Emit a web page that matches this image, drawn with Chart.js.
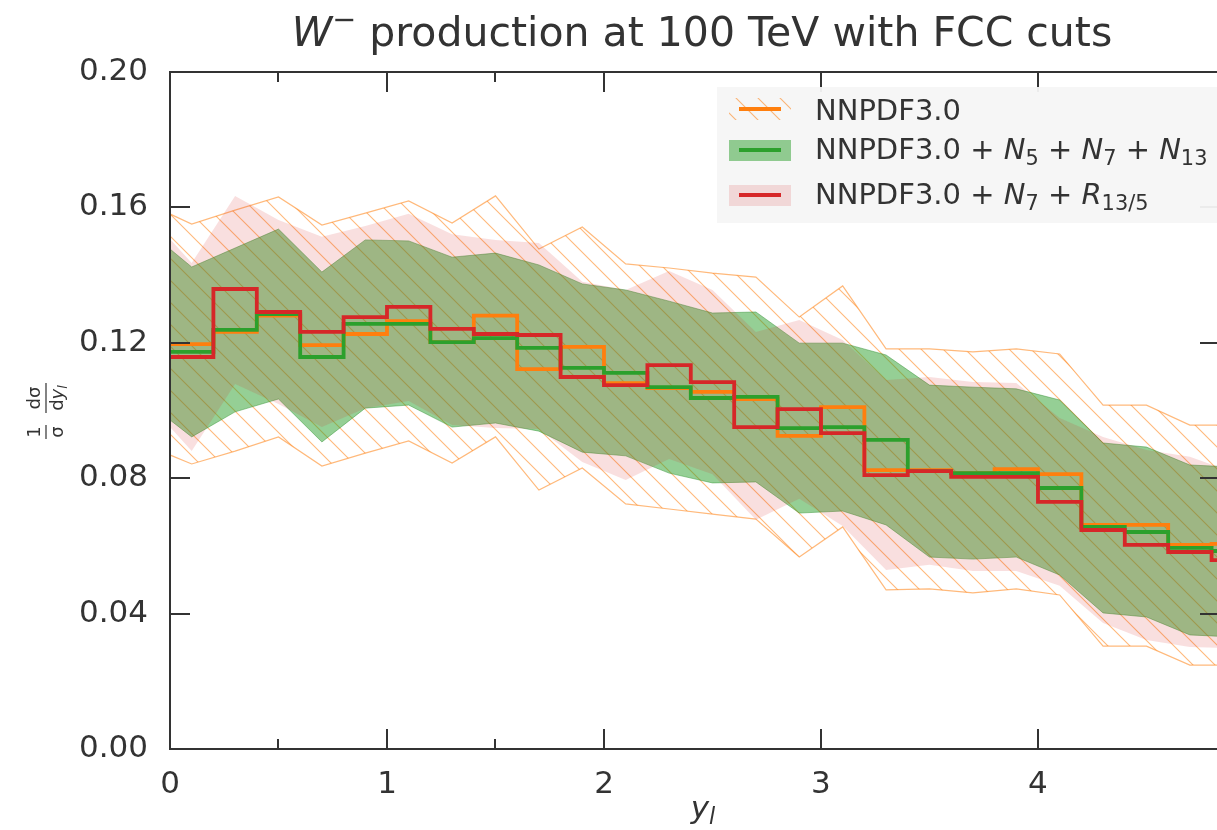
<!DOCTYPE html>
<html>
<head>
<meta charset="utf-8">
<script src="https://cdn.jsdelivr.net/npm/chart.js@4.4.1/dist/chart.umd.min.js"></script>
<style>
html,body{margin:0;padding:0;background:#ffffff;overflow:hidden;}
canvas{display:block;}
</style>
</head>
<body>
<canvas id="c" width="1217" height="830" style="width:1217px;height:830px"></canvas>
<script>
// ---------------- data ----------------
const binEdges = [0.0,0.2,0.4,0.6,0.8,1.0,1.2,1.4,1.6,1.8,2.0,2.2,2.4,2.6,2.8,3.0,3.2,3.4,3.6,3.8,4.0,4.2,4.4,4.6,4.8,5.0];
const bandX = [-0.1,0.1,0.3,0.5,0.7,0.9,1.1,1.3,1.5,1.7,1.9,2.1,2.3,2.5,2.7,2.9,3.1,3.3,3.5,3.7,3.9,4.1,4.3,4.5,4.7,4.9];

const nnpdfCentral = [0.1196,0.1232,0.1280,0.1193,0.1226,0.1264,0.1202,0.1280,0.1122,0.1188,0.1081,0.1066,0.1055,0.1034,0.0925,0.1010,0.0824,0.0824,0.0815,0.0827,0.0812,0.0662,0.0662,0.0603,0.0606];
const n5n7n13Central = [0.1173,0.1238,0.1285,0.1158,0.1256,0.1256,0.1202,0.1214,0.1185,0.1126,0.1111,0.1069,0.1037,0.1040,0.0948,0.0951,0.0913,0.0821,0.0815,0.0815,0.0771,0.0656,0.0641,0.0594,0.0585];
const n7r135Central = [0.1158,0.1359,0.1291,0.1232,0.1276,0.1306,0.1241,0.1226,0.1223,0.1099,0.1075,0.1134,0.1084,0.0951,0.1004,0.0933,0.0809,0.0821,0.0804,0.0804,0.0730,0.0647,0.0603,0.0582,0.0558];

const nnpdfUpper = [0.1610,0.1551,0.1592,0.1631,0.1548,0.1583,0.1619,0.1554,0.1634,0.1477,0.1542,0.1433,0.1421,0.1406,0.1394,0.1276,0.1368,0.1182,0.1182,0.1173,0.1182,0.1167,0.1016,0.1016,0.0957,0.0957];
const nnpdfLower = [0.0895,0.0842,0.0880,0.0922,0.0836,0.0874,0.0910,0.0845,0.0922,0.0765,0.0830,0.0724,0.0709,0.0694,0.0679,0.0567,0.0656,0.0470,0.0473,0.0461,0.0473,0.0455,0.0304,0.0304,0.0248,0.0248];

const n5n7n13Upper = [0.1530,0.1424,0.1480,0.1536,0.1409,0.1504,0.1501,0.1453,0.1465,0.1430,0.1374,0.1356,0.1323,0.1288,0.1291,0.1199,0.1199,0.1164,0.1075,0.1069,0.1064,0.1031,0.0904,0.0892,0.0839,0.0833];
const n5n7n13Lower = [0.1022,0.0922,0.0996,0.1034,0.0907,0.1007,0.1016,0.0951,0.0963,0.0939,0.0877,0.0866,0.0815,0.0786,0.0789,0.0697,0.0703,0.0662,0.0567,0.0561,0.0567,0.0514,0.0402,0.0390,0.0337,0.0331];

const n7r135Upper = [0.1577,0.1436,0.1634,0.1563,0.1513,0.1545,0.1581,0.1521,0.1504,0.1495,0.1380,0.1356,0.1412,0.1356,0.1232,0.1267,0.1208,0.1090,0.1099,0.1084,0.1081,0.0978,0.0922,0.0883,0.0863,0.0818];
const n7r135Lower = [0.1022,0.0880,0.1078,0.1019,0.0951,0.1007,0.1028,0.0957,0.0948,0.0945,0.0848,0.0795,0.0857,0.0812,0.0677,0.0739,0.0659,0.0529,0.0544,0.0526,0.0526,0.0482,0.0372,0.0322,0.0301,0.0298];

const xMajorTicks = [0,1,2,3,4];
const xMinorTicks = [0.5,1.5];
const yTicks = [0.00,0.04,0.08,0.12,0.16,0.20];
const xMin = 0, xMax = 4.825, yMin = 0, yMax = 0.20;

// ---------------- styling ----------------
const FONT = '"DejaVu Sans", "Liberation Sans", sans-serif';
const TXT = '#333333';
const C_OR = '#ff7f0e', C_GR = '#2ca02c', C_RD = '#d62728';

const canvas = document.getElementById('c');
const mainCtx = canvas.getContext('2d');

function makeHatch(){
  const s = 22;
  const c = document.createElement('canvas');
  c.width = s; c.height = s;
  const g = c.getContext('2d');
  g.strokeStyle = 'rgba(255,127,14,0.55)';
  g.lineWidth = 1.1;
  g.beginPath();
  g.moveTo(-3,-3); g.lineTo(s+3,s+3);
  g.moveTo(-3,s-3); g.lineTo(3,s+3);
  g.moveTo(s-3,-3); g.lineTo(s+3,3);
  g.stroke();
  return mainCtx.createPattern(c,'repeat');
}
const hatch = makeHatch();

function stepPoints(vals){
  const pts = vals.map((v,i)=>({x:binEdges[i], y:v}));
  pts.push({x:binEdges[vals.length], y:vals[vals.length-1]});
  return pts;
}
function bandPoints(vals){ return vals.map((v,i)=>({x:bandX[i], y:v})); }

function drawRich(ctx, x, y, segs, size){
  for (const s of segs){
    let sz = size, dy = 0;
    if (s.sub){ sz = size*0.72; dy = size*0.2; }
    if (s.sup){ sz = size*0.7; dy = -size*0.42; }
    ctx.font = (s.it ? 'italic ' : '') + sz.toFixed(1) + 'px ' + FONT;
    ctx.fillText(s.t, x, y + dy);
    x += ctx.measureText(s.t).width;
  }
  return x;
}
function richWidth(ctx, segs, size){
  let w = 0;
  for (const s of segs){
    let sz = size;
    if (s.sub) sz = size*0.72;
    if (s.sup) sz = size*0.7;
    ctx.font = (s.it ? 'italic ' : '') + sz.toFixed(1) + 'px ' + FONT;
    w += ctx.measureText(s.t).width;
  }
  return w;
}

const decor = {
  id: 'decor',
  afterDraw(chart){
    const ctx = chart.ctx, ca = chart.chartArea;
    const xs = chart.scales.x, ys = chart.scales.y;
    ctx.save();
    ctx.strokeStyle = '#333333';
    ctx.lineWidth = 2;
    ctx.lineCap = 'butt';
    // frame (right spine lies just outside the picture)
    ctx.beginPath();
    ctx.moveTo(ca.right + 4, ca.top); ctx.lineTo(ca.left, ca.top);
    ctx.lineTo(ca.left, ca.bottom); ctx.lineTo(ca.right + 4, ca.bottom);
    ctx.stroke();
    // ticks (inward)
    ctx.beginPath();
    for (const v of xMajorTicks){
      const px = Math.round(xs.getPixelForValue(v));
      ctx.moveTo(px, ca.bottom); ctx.lineTo(px, ca.bottom - 20);
      ctx.moveTo(px, ca.top); ctx.lineTo(px, ca.top + 20);
    }
    for (const v of xMinorTicks){
      const px = Math.round(xs.getPixelForValue(v));
      ctx.moveTo(px, ca.bottom); ctx.lineTo(px, ca.bottom - 10);
      ctx.moveTo(px, ca.top); ctx.lineTo(px, ca.top + 10);
    }
    for (const v of yTicks){
      const py = Math.round(ys.getPixelForValue(v));
      ctx.moveTo(ca.left, py); ctx.lineTo(ca.left + 20, py);
      ctx.moveTo(ca.right + 3, py); ctx.lineTo(ca.right - 17, py);
    }
    ctx.stroke();

    // legend
    ctx.fillStyle = 'rgba(246,246,246,0.95)';
    ctx.fillRect(717, 87, 510, 136);
    const sx0 = 729, sx1 = 791;
    const rows = [109, 150, 195];
    ctx.fillStyle = hatch;
    ctx.fillRect(sx0, rows[0]-11, sx1-sx0, 22);
    ctx.fillStyle = 'rgba(44,160,44,0.5)';
    ctx.fillRect(sx0, rows[1]-10, sx1-sx0, 21);
    ctx.fillStyle = 'rgba(214,39,40,0.15)';
    ctx.fillRect(sx0, rows[2]-10, sx1-sx0, 21);
    ctx.lineWidth = 4;
    [[C_OR,rows[0]],[C_GR,rows[1]],[C_RD,rows[2]]].forEach(([c,y])=>{
      ctx.strokeStyle = c; ctx.beginPath(); ctx.moveTo(739,y); ctx.lineTo(781,y); ctx.stroke();
    });
    ctx.fillStyle = TXT;
    ctx.textAlign = 'left';
    ctx.textBaseline = 'alphabetic';
    const LS = 29;
    drawRich(ctx, 815, 120, [{t:'NNPDF3.0'}], LS);
    drawRich(ctx, 815, 159, [{t:'NNPDF3.0 + '},{t:'N',it:true},{t:'5',sub:true},{t:' + '},{t:'N',it:true},{t:'7',sub:true},{t:' + '},{t:'N',it:true},{t:'13',sub:true}], LS);
    drawRich(ctx, 815, 204, [{t:'NNPDF3.0 + '},{t:'N',it:true},{t:'7',sub:true},{t:' + '},{t:'R',it:true},{t:'13/5',sub:true}], LS);

    // title
    const TS = 41;
    const titleSegs = [{t:'W',it:true},{t:'\u2212',sup:true},{t:' production at 100 TeV with FCC cuts'}];
    const tw = richWidth(ctx, titleSegs, TS);
    drawRich(ctx, 702 - tw/2, 46, titleSegs, TS);

    // x axis title
    const xt = [{t:'y',it:true},{t:'l',it:true,sub:true}];
    const xw = richWidth(ctx, xt, 31);
    drawRich(ctx, 703 - xw/2, 818, xt, 31);

    // y axis title: (1/sigma) (d sigma / d y_l), rotated
    ctx.save();
    ctx.translate(45, 411);
    ctx.rotate(-Math.PI/2);
    const FS = 18;
    ctx.font = FS + 'px ' + FONT;
    ctx.textAlign = 'center';
    ctx.fillText('1', -21, -5);
    ctx.fillText('\u03c3', -21, 18);
    ctx.fillText('d\u03c3', 13, -5);
    ctx.textAlign = 'left';
    const dSegs = [{t:'d'},{t:'y',it:true},{t:'l',it:true,sub:true}];
    const dw = richWidth(ctx, dSegs, FS);
    drawRich(ctx, 13 - dw/2, 18, dSegs, FS);
    ctx.strokeStyle = TXT; ctx.lineWidth = 1.2;
    ctx.beginPath();
    ctx.moveTo(-28, 1); ctx.lineTo(-14, 1);
    ctx.moveTo(-2, 1); ctx.lineTo(28, 1);
    ctx.stroke();
    ctx.restore();

    ctx.restore();
  }
};

const lineBase = {pointRadius:0, pointHoverRadius:0, tension:0, borderJoinStyle:'miter', borderCapStyle:'butt'};

new Chart(canvas, {
  type: 'line',
  data: {
    datasets: [
      Object.assign({label:'NNPDF3.0 + N7 + R13/5', data: stepPoints(n7r135Central), borderColor:C_RD, borderWidth:3.8, stepped:'before', fill:false}, lineBase),
      Object.assign({label:'NNPDF3.0 + N5 + N7 + N13', data: stepPoints(n5n7n13Central), borderColor:C_GR, borderWidth:3.8, stepped:'before', fill:false}, lineBase),
      Object.assign({label:'NNPDF3.0', data: stepPoints(nnpdfCentral), borderColor:C_OR, borderWidth:3.8, stepped:'before', fill:false}, lineBase),
      Object.assign({label:'r_up', data: bandPoints(n7r135Upper), borderWidth:0, borderColor:'rgba(0,0,0,0)', backgroundColor:'rgba(214,39,40,0.15)', fill:'+1'}, lineBase),
      Object.assign({label:'r_lo', data: bandPoints(n7r135Lower), borderWidth:0, borderColor:'rgba(0,0,0,0)', fill:false}, lineBase),
      Object.assign({label:'g_up', data: bandPoints(n5n7n13Upper), borderWidth:1, borderColor:'rgba(44,140,44,0.45)', backgroundColor:'rgba(44,160,44,0.5)', fill:'+1'}, lineBase),
      Object.assign({label:'g_lo', data: bandPoints(n5n7n13Lower), borderWidth:1, borderColor:'rgba(44,140,44,0.45)', fill:false}, lineBase),
      Object.assign({label:'o_up', data: bandPoints(nnpdfUpper), borderWidth:1.2, borderColor:'rgba(255,127,14,0.55)', backgroundColor:hatch, fill:'+1'}, lineBase),
      Object.assign({label:'o_lo', data: bandPoints(nnpdfLower), borderWidth:1.2, borderColor:'rgba(255,127,14,0.55)', fill:false}, lineBase)
    ]
  },
  options: {
    responsive: false,
    devicePixelRatio: 1,
    animation: false,
    events: [],
    layout: {padding: {top:72, right:0, bottom:0, left:0}},
    plugins: {legend:{display:false}, tooltip:{enabled:false}, title:{display:false}},
    scales: {
      x: {
        type:'linear', min:xMin, max:xMax,
        grid:{display:false, drawTicks:false}, border:{display:false},
        ticks:{font:{family:FONT, size:31}, color:TXT, padding:17, maxRotation:0, autoSkip:false, callback:(v)=>String(v)},
        afterBuildTicks:(s)=>{ s.ticks = xMajorTicks.map(v=>({value:v})); },
        afterFit:(s)=>{ s.height = 81; }
      },
      y: {
        type:'linear', min:yMin, max:yMax,
        grid:{display:false, drawTicks:false}, border:{display:false},
        ticks:{font:{family:FONT, size:31}, color:TXT, padding:22, callback:(v)=>Number(v).toFixed(2)},
        afterBuildTicks:(s)=>{ s.ticks = yTicks.map(v=>({value:v})); },
        afterFit:(s)=>{ s.width = 170; }
      }
    }
  },
  plugins: [decor]
});
</script>
</body>
</html>
